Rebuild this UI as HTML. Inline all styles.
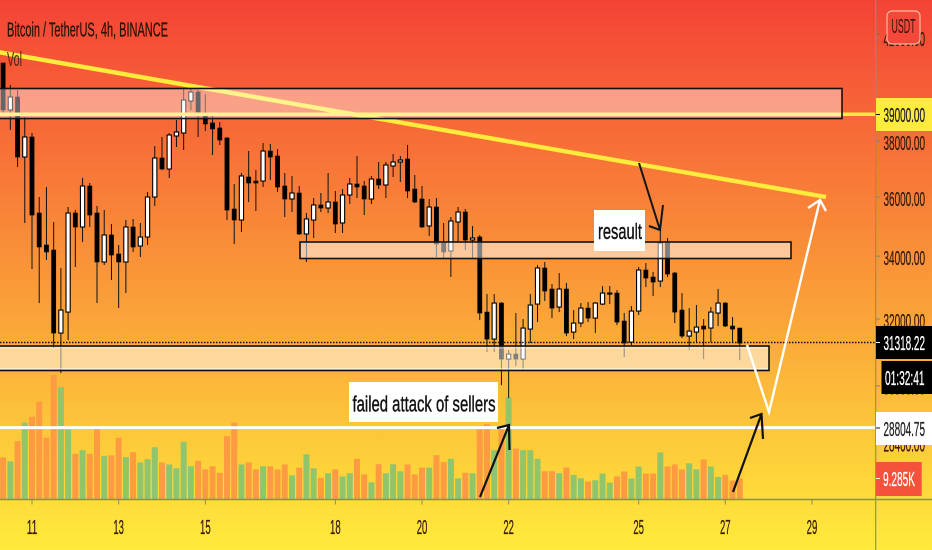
<!DOCTYPE html>
<html lang="en">
<head>
<meta charset="utf-8">
<title>Bitcoin / TetherUS 4h chart</title>
<style>
html,body{margin:0;padding:0;background:#fff;width:932px;height:550px;overflow:hidden}
svg{display:block}
text{font-family:"Liberation Sans",sans-serif}
</style>
</head>
<body>
<svg id="chart" xmlns="http://www.w3.org/2000/svg" width="932" height="550" viewBox="0 0 932 550">
  <defs>
    <linearGradient id="bg" gradientUnits="userSpaceOnUse" x1="0" y1="0" x2="0" y2="550">
      <stop offset="0" stop-color="#F44336"/>
      <stop offset="1" stop-color="#FFEB3B"/>
    </linearGradient>
  </defs>
  <rect x="0" y="0" width="932" height="550" fill="url(#bg)"/>
  <g id="volumes"></g>
  <g id="candles"></g>

  <line x1="-2" y1="52" x2="826" y2="197" stroke="#FFEB3B" stroke-width="4.4"/>
  <line x1="0" y1="114.3" x2="876" y2="114.3" stroke="#FFEB3B" stroke-width="3.5"/>

  <rect x="-3" y="88.5" width="845" height="30" fill="#fff" fill-opacity=".4" stroke="#111" stroke-width="1.6"/>
  <rect x="300" y="242" width="491" height="16.5" fill="#fff" fill-opacity=".5" stroke="#111" stroke-width="1.6"/>
  <rect x="-3" y="346" width="772" height="24.5" fill="#fff" fill-opacity=".5" stroke="#111" stroke-width="1.6"/>
  <line x1="0" y1="348" x2="768" y2="348" stroke="#fff" stroke-opacity=".55" stroke-width="1"/>
  <line x1="0" y1="368.5" x2="768" y2="368.5" stroke="#fff" stroke-opacity=".55" stroke-width="1"/>

  <line id="last-line" x1="0" x2="876" stroke="#111" stroke-width="1.5" stroke-dasharray="1.5 1.5"/>
  <line x1="0" y1="427.6" x2="876" y2="427.6" stroke="#fff" stroke-width="3"/>

  <polyline points="747,345 769,412 820,200" fill="none" stroke="#fff" stroke-width="2.4"/>
  <polyline points="808,208 820,200 826,211" fill="none" stroke="#fff" stroke-width="2.4"/>

  <line x1="639" y1="163" x2="660" y2="230" stroke="#151515" stroke-width="2"/>
  <polyline points="649,226 660,230 663,205" fill="none" stroke="#151515" stroke-width="2"/>
  <line x1="480" y1="497" x2="509" y2="425" stroke="#111" stroke-width="2.2"/>
  <polyline points="497,428 509,425 509.5,450" fill="none" stroke="#111" stroke-width="2.2"/>
  <line x1="733" y1="492" x2="761.5" y2="414" stroke="#111" stroke-width="2.2"/>
  <polyline points="750,418 761.5,414 763,439" fill="none" stroke="#111" stroke-width="2.2"/>

  <rect x="594" y="210" width="51" height="41" fill="#fff"/>
  <text x="598" y="239" font-size="22" textLength="44" lengthAdjust="spacingAndGlyphs" fill="#111" stroke="#111" stroke-width=".4">resault</text>
  <rect x="349" y="382" width="149" height="40" fill="#fff"/>
  <text x="352.5" y="411.5" font-size="22" textLength="143" lengthAdjust="spacingAndGlyphs" fill="#111" stroke="#111" stroke-width=".4">failed attack of sellers</text>

  <line x1="0" y1="499.5" x2="932" y2="499.5" stroke="#8a8a70" stroke-width="1.4"/>
  <line x1="875.7" y1="0" x2="875.7" y2="550" stroke="#8f8f70" stroke-width="1.2"/>
  <g id="x-axis"></g>
  <g id="y-axis"></g>

  <rect x="887" y="11" width="33" height="33" rx="5" fill="#F4483A" stroke="#FBB8A0" stroke-width="1.2"/>
  <text x="891.5" y="33" font-size="20" textLength="24" lengthAdjust="spacingAndGlyphs" fill="#3a120a">USDT</text>

  <rect x="876" y="98" width="56" height="33" fill="#FFEB3B"/>
  <line x1="876" y1="114.5" x2="880" y2="114.5" stroke="#111" stroke-width="1"/>
  <text x="883.5" y="122" font-size="20" textLength="41.5" lengthAdjust="spacingAndGlyphs" fill="#222" stroke="#222" stroke-width=".3">39000.00</text>

  <rect x="876" y="326" width="56" height="33" fill="#000"/>
  <line x1="876" y1="342.5" x2="880" y2="342.5" stroke="#fff" stroke-width="1"/>
  <text x="883.5" y="350" font-size="20" textLength="41.5" lengthAdjust="spacingAndGlyphs" fill="#fff" stroke="#fff" stroke-width=".3">31318.22</text>
  <rect x="881.5" y="361" width="50.5" height="33" fill="#000"/>
  <text x="885" y="385" font-size="20" textLength="39.5" lengthAdjust="spacingAndGlyphs" fill="#fff" stroke="#fff" stroke-width=".3">01:32:41</text>

  <rect x="876" y="412" width="56" height="33" fill="#fff"/>
  <line x1="876" y1="428" x2="880" y2="428" stroke="#111" stroke-width="1"/>
  <text x="883.5" y="436" font-size="20" textLength="41.5" lengthAdjust="spacingAndGlyphs" fill="#222" stroke="#222" stroke-width=".3">28804.75</text>

  <rect x="876" y="462" width="45.7" height="34" fill="#F4523B"/>
  <line x1="876" y1="478.5" x2="880" y2="478.5" stroke="#fff" stroke-width="1"/>
  <text x="883" y="486" font-size="20" textLength="32" lengthAdjust="spacingAndGlyphs" fill="#fff" stroke="#fff" stroke-width=".3">9.285K</text>

  <text x="7" y="36.5" font-size="20" textLength="161" lengthAdjust="spacingAndGlyphs" fill="#2b1208" stroke="#2b1208" stroke-width=".3">Bitcoin / TetherUS, 4h, BINANCE</text>
  <text x="7" y="66" font-size="20" textLength="15" lengthAdjust="spacingAndGlyphs" fill="#4a2410">Vol</text>
</svg>
<script>
const opens = [40906,39113,39600,37399,38119,35455,34390,34226,31620,32260,35455,34985,36379,35455,33837,34720,34096,33837,34985,34357,34653,36000,37363,36973,38156,38265,39450,39789,38890,38632,38448,38083,35590,35219,36693,36552,36552,37613,37435,36379,35931,36137,34753,35219,35727,35624,35829,35119,36068,36449,36379,35931,36622,36414,37080,37221,37328,36275,35931,35019,35658,34455,34193,35152,35488,34554,34653,32260,31440,32538,30846,30994,30846,31741,32507,33643,32976,32414,32976,31650,31924,32383,32076,32507,32819,32850,31985,31350,32291,33579,33355,33228,34455,33483,32322,31530,31650,31833,31772,32230,32538,31833,31772];
const highs = [40906,40056,39865,38853,38265,36000,36344,35152,33643,35658,35556,36657,36483,35693,35556,35085,34390,35219,35253,35119,36171,37793,38119,38265,38742,39941,39903,39865,39713,38928,38669,38119,36449,36833,37613,36938,37902,37866,37685,36833,36728,36379,35455,35966,36137,36833,36206,36275,36657,37435,36552,36728,37221,37221,37506,37435,37830,36763,36379,35931,35966,35119,35320,35658,35590,35019,34720,32819,32819,32569,31112,32230,32046,32819,33740,33837,33133,33483,33165,32322,32538,32569,32569,33070,33070,32944,32230,32445,33676,33804,33515,34885,34620,33515,32850,32383,32476,32046,32414,32976,32569,32107,31772];
const lows = [38928,38375,37044,35119,33611,32538,33901,31171,30438,31410,33676,34488,34985,32538,33740,33260,32383,32850,34161,33998,34390,35693,36938,36657,37757,37649,39113,38119,38338,37470,37830,35219,34423,34819,35829,35522,36344,36587,36171,35320,35488,34720,33837,34620,35488,35455,34786,34786,35761,35966,35387,35761,36275,35966,36693,36518,35966,35795,34952,34686,33998,33966,33355,34488,34226,33966,32015,31053,31053,30090,29720,30642,30554,31321,31954,32600,32076,32260,31530,31440,31802,31954,31620,32476,32507,31863,30905,31261,32168,33039,32756,33039,33355,31924,31470,31112,31350,30846,31350,31833,31802,31350,30817];
const closes = [39113,39600,37399,38119,35387,34324,34161,31620,32322,35455,34985,36379,35387,33837,34720,34063,33837,34985,34324,34653,36000,37363,36973,38192,38302,39487,39789,39039,38595,38412,38010,35556,35219,36728,36483,36483,37613,37399,36344,35931,36137,34753,35253,35727,35624,35829,35085,36068,36449,36344,35931,36622,36414,37115,37221,37292,36206,35829,34985,35658,34423,34161,35186,35488,34554,34620,32230,31440,32538,30846,30994,30846,31772,32476,33643,32913,32383,32976,31620,31924,32383,32076,32538,32850,32850,31954,31321,32291,33579,33324,33197,34455,33451,32260,31530,31681,31802,31741,32260,32538,31833,31741,31318.22];
const volumesK = [18.6,16.9,25.8,34.0,36.6,43.3,27.3,55.0,49.6,31.1,20.2,21.8,20.2,31.4,19.3,19.5,27.3,18.7,20.9,16.4,17.8,23.1,16.4,15.5,13.8,25.5,14.7,17.1,13.3,14.7,11.8,28.0,34.0,15.5,16.4,13.3,14.7,14.7,13.3,15.5,10.7,14.1,20.0,13.8,9.6,11.6,13.3,10.2,11.6,18.0,11.1,7.6,15.6,11.6,15.6,12.5,15.5,11.1,14.1,14.1,19.6,16.5,18.0,9.4,11.8,11.6,31.4,33.3,21.8,31.4,45.1,22.5,21.8,21.8,18.0,12.5,12.5,11.6,14.1,10.9,9.4,8.0,8.5,11.5,7.5,10.2,12.4,9.3,14.6,11.5,11.5,20.8,14.6,15.5,13.3,16.0,13.3,17.7,14.6,10.0,10.9,8.4,9.285];
const firstBarIndex = -4;
const dateLabels = ["11","13","15","18","20","22","25","27","29"];
const dateBars = [0,12,24,42,54,66,84,96,108];
const priceTicks = [42000,38000,36000,34000,32000,30000,28400];

const NS = "http://www.w3.org/2000/svg";
const barStep = 7.222;
const xOrigin = 32;
const priceRef = 36000;
const priceRefY = 197;
const pxPerLog = 1049;
const axisPxPerLog = 1036;
const volBase = 499.5;
const pxPerK = 21 / 9.285;

function barX(bar) { return xOrigin + bar * barStep; }
function priceY(p) { return priceRefY + (Math.log(priceRef) - Math.log(p)) * pxPerLog; }
function axisY(p) { return priceRefY + (Math.log(priceRef) - Math.log(p)) * axisPxPerLog; }
function volY(v) { return volBase - v * pxPerK; }
function make(tag, parent, attrs) {
  const el = document.createElementNS(NS, tag);
  for (const k in attrs) el.setAttribute(k, attrs[k]);
  parent.appendChild(el);
  return el;
}

const volGroup = document.getElementById("volumes");
volumesK.forEach(function (v, i) {
  const x = barX(i + firstBarIndex);
  const up = closes[i] >= opens[i];
  const top = volY(v);
  const bar = make("rect", volGroup, { x: x - 3, y: top, width: 6, height: volBase - top, fill: up ? "#90C56C" : "#FD9B42" });
  
  
});

const candleGroup = document.getElementById("candles");
opens.forEach(function (o, i) {
  const x = barX(i + firstBarIndex);
  const c = closes[i];
  const up = c >= o;
  const wick = make("line", candleGroup, { x1: x, x2: x, y1: priceY(highs[i]), y2: priceY(lows[i]), stroke: "#111", "stroke-width": 1 });
  
  
  const top = priceY(Math.max(o, c));
  const bottom = priceY(Math.min(o, c));
  const body = make("rect", candleGroup, {
    x: x - 2.1, y: top, width: 4.2, height: Math.max(bottom - top, 1),
    fill: up ? "#fff" : "#000", stroke: "#000", "stroke-width": up ? 1.1 : 0.6
  });
  
  
});

const lastLine = document.getElementById("last-line");
lastLine.setAttribute("y1", priceY(closes[closes.length - 1]) - 0.6);
lastLine.setAttribute("y2", priceY(closes[closes.length - 1]) - 0.6);

const xAxis = document.getElementById("x-axis");
dateLabels.forEach(function (label, i) {
  const x = barX(dateBars[i]);
  const tick = make("line", xAxis, { x1: x, x2: x, y1: 500, y2: 504.5, stroke: "#8a8a70", "stroke-width": 1 });
  
  
  const text = make("text", xAxis, { x: x - 5.3, y: 534, "font-size": 20, textLength: 10.6, lengthAdjust: "spacingAndGlyphs", fill: "#3a1c08", stroke: "#3a1c08", "stroke-width": 0.3 });
  
  
  text.textContent = label;
});

const yAxis = document.getElementById("y-axis");
priceTicks.forEach(function (p) {
  const y = axisY(p);
  const tick = make("line", yAxis, { x1: 876, x2: 880, y1: y, y2: y, stroke: "#8a8a70", "stroke-width": 1.2 });
  
  
  const text = make("text", yAxis, { x: 883.5, y: y + 8.8, "font-size": 20, textLength: 41.5, lengthAdjust: "spacingAndGlyphs", fill: "#3a1c08", stroke: "#3a1c08", "stroke-width": 0.3 });
  
  
  text.textContent = p.toFixed(2);
});
</script>
</body>
</html>
